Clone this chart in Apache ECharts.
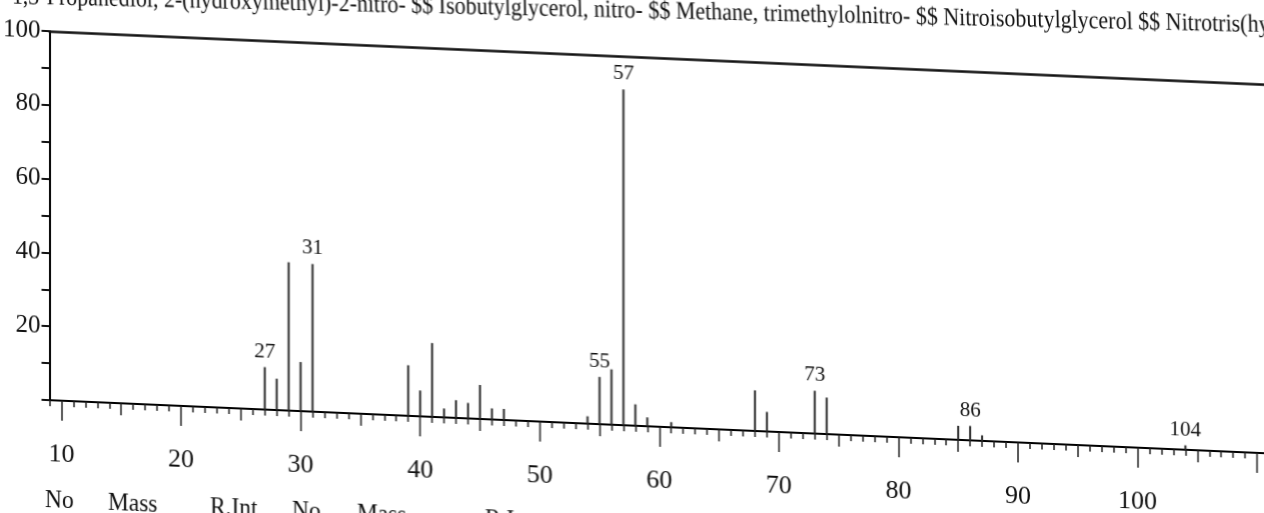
<!DOCTYPE html>
<html>
<head>
<meta charset="utf-8">
<script src="https://cdn.jsdelivr.net/npm/echarts@6/dist/echarts.min.js"></script>
<style>
  html, body { margin: 0; padding: 0; background: #fff; overflow: hidden; width: 1264px; height: 513px; }
  /* the scan is sheared: push the chart up 60px so the cut-off title still fits on the canvas */
  #main { width: 1300px; height: 573px; margin-top: -60px; transform: skewY(2.5deg); transform-origin: 0 60px; }
</style>
</head>
<body>
<div id="main"></div>
<script>
// peaks (m/z, relative intensity %)
var masses = [27, 28, 29, 30, 31, 39, 40, 41, 42, 43, 44, 45, 46, 47, 54, 55, 56, 57, 58, 59, 61, 68, 69, 73, 74, 85, 86, 87, 104];
var intensities = [11.5, 8.5, 40.2, 13.3, 40, 13.7, 7, 20, 2.4, 4.8, 4.2, 9.2, 3, 3, 2, 12.8, 15, 91, 5.8, 2.4, 1.4, 11, 5.3, 11.6, 9.9, 3.8, 3.9, 1.5, 1.2];
var labelled = [27, 31, 55, 57, 73, 86, 104];
var xMajor = [10, 20, 30, 40, 50, 60, 70, 80, 90, 100, 110];
var xLabels = [10, 20, 30, 40, 50, 60, 70, 80, 90, 100];
var xMid = [15, 25, 35, 45, 55, 65, 75, 85, 95, 105];
var titleText = '1,3-Propanediol, 2-(hydroxymethyl)-2-nitro- $$ Isobutylglycerol, nitro- $$ Methane, trimethylolnitro- $$ Nitroisobutylglycerol $$ Nitrotris(hydroxymethyl)methane';
var tableHead = ['No', 'Mass', 'R.Int', 'No', 'Mass', 'R.Int'];
var tableX = [45, 108, 210, 292, 357, 485];

var font = "'Liberation Serif', 'Times New Roman', serif";
var top0 = 60;

var peaks = masses.map(function (m, i) {
  return {
    value: [m, intensities[i]],
    label: { show: labelled.indexOf(m) >= 0 }
  };
});

var graphics = [{
  type: 'text', x: 12, y: top0 + 9, rotation: 0.021, scaleX: 0.88,
  style: { text: titleText, fontSize: 25, fontFamily: font, fill: '#111', align: 'left', verticalAlign: 'bottom' }
}];
tableHead.forEach(function (t, i) {
  graphics.push({
    type: 'text', x: tableX[i], y: top0 + 485, scaleX: 0.9,
    style: { text: t, fontSize: 26, fontFamily: font, fill: '#111', align: 'left', verticalAlign: 'top' }
  });
});

var myChart = echarts.init(document.getElementById('main'));
myChart.setOption({
  animation: false,
  backgroundColor: '#fff',
  grid: { left: 45, top: top0 + 29, width: 1236, height: 369 },
  xAxis: [
    {
      type: 'value', min: 9, max: 112, interval: 1, position: 'bottom',
      axisLine: { show: true, onZero: false, lineStyle: { color: '#000', width: 2 } },
      axisTick: { show: true, length: 6, lineStyle: { color: '#222', width: 1.5 } },
      axisLabel: { show: false },
      splitLine: { show: false }
    },
    {
      type: 'value', min: 9, max: 112, position: 'bottom',
      axisLine: { show: false },
      axisTick: { show: true, length: 12, customValues: xMid, lineStyle: { color: '#222', width: 1.5 } },
      axisLabel: { show: false },
      splitLine: { show: false }
    },
    {
      type: 'value', min: 9, max: 112, position: 'bottom',
      axisLine: { show: false },
      axisTick: { show: true, length: 20, customValues: xMajor, lineStyle: { color: '#222', width: 1.5 } },
      axisLabel: { show: true, customValues: xLabels, margin: 41, fontSize: 26, fontFamily: font, color: '#111' },
      splitLine: { show: false }
    },
    {
      type: 'value', min: 9, max: 112, position: 'top',
      axisLine: { show: true, onZero: false, lineStyle: { color: '#111', width: 2.5 } },
      axisTick: { show: false },
      axisLabel: { show: false },
      splitLine: { show: false }
    }
  ],
  yAxis: {
    type: 'value', min: 0, max: 100, interval: 10,
    axisLine: { show: true, onZero: false, lineStyle: { color: '#000', width: 2 } },
    axisTick: { show: true, length: 8, lineStyle: { color: '#111', width: 2 } },
    axisLabel: {
      margin: 9, fontSize: 25, fontFamily: font, color: '#111',
      formatter: function (v) { return (v > 0 && v % 20 === 0) ? String(v) : ''; }
    },
    splitLine: { show: false }
  },
  graphic: graphics,
  series: [{
    type: 'bar',
    xAxisIndex: 0,
    barWidth: 2,
    itemStyle: { color: '#2a2a2a' },
    label: {
      show: false, position: 'top', distance: 5,
      fontSize: 21, fontFamily: font, color: '#111',
      formatter: function (p) { return p.value[0]; }
    },
    data: peaks
  }]
});
</script>
</body>
</html>
